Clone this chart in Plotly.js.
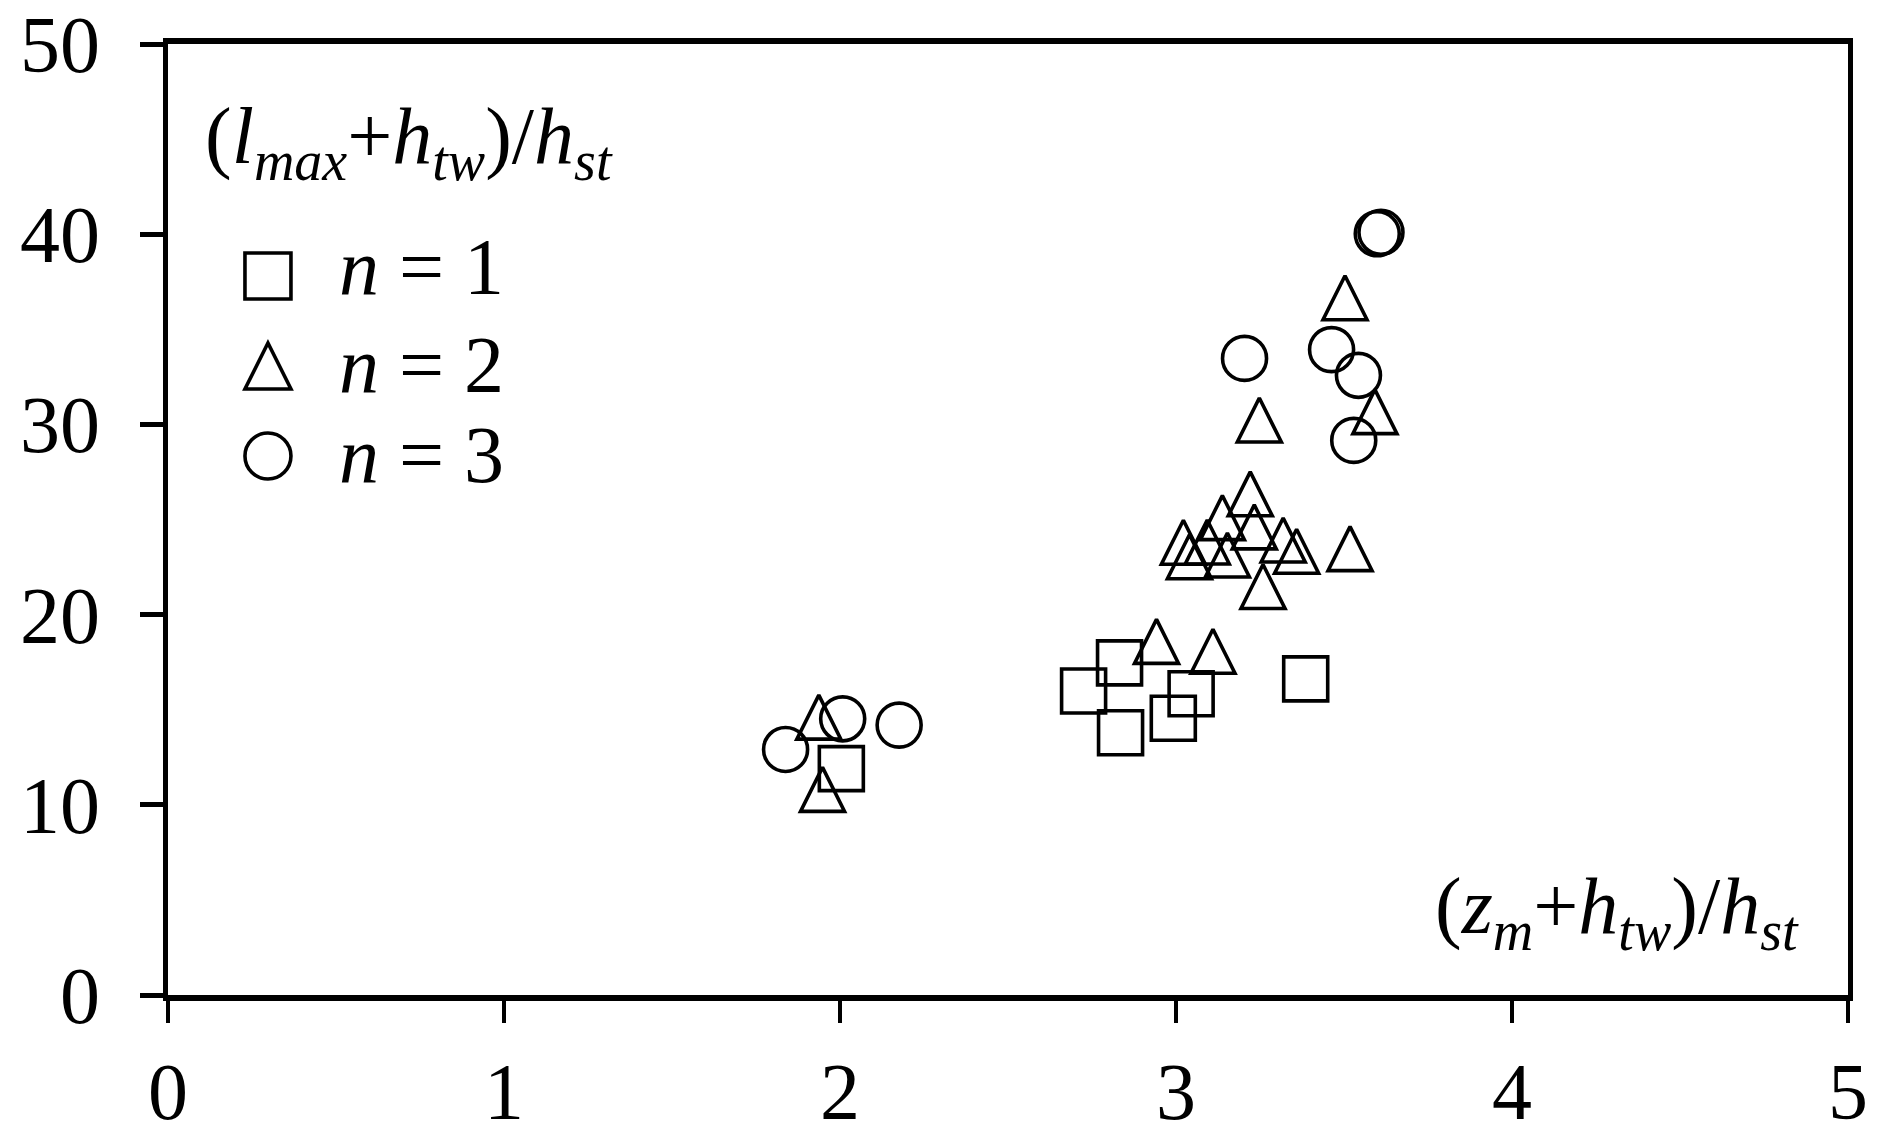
<!DOCTYPE html>
<html>
<head>
<meta charset="utf-8">
<script src="https://cdn.plot.ly/plotly-3.0.1.min.js"></script>
<style>
  html, body { margin: 0; padding: 0; background: #ffffff; }
  #chart { width: 1882px; height: 1136px; }
</style>
</head>
<body>
<div id="chart"></div>
<script>
// ---- data ----
const seriesNames = ["n = 1", "n = 2", "n = 3"];

const n1_x = [2.004, 2.725, 2.832, 2.835, 2.992, 3.045, 3.386];
const n1_y = [11.90, 15.98, 17.46, 13.79, 14.55, 15.84, 16.62];

const n2_x = [1.937, 1.948, 2.942, 3.110, 3.022, 3.093, 3.040, 3.153, 3.138, 3.221, 3.233, 3.319, 3.359, 3.518, 3.259, 3.248, 3.592, 3.503];
const n2_y = [14.61, 10.81, 18.59, 18.07, 23.80, 23.82, 23.04, 23.13, 25.10, 26.35, 24.61, 23.92, 23.33, 23.47, 21.48, 30.23, 30.67, 36.66];

const n3_x = [1.838, 2.008, 2.176, 3.204, 3.463, 3.543, 3.529, 3.599, 3.610];
const n3_y = [12.91, 14.52, 14.19, 33.47, 33.93, 32.58, 29.16, 40.02, 40.10];

const xTickVals = [0, 1, 2, 3, 4, 5];
const yTickVals = [0, 10, 20, 30, 40, 50];

// axis title pieces: [main, subscript] pairs
const xTitleParts = [["(", ""], ["z", "m"], ["+", ""], ["h", "tw"], [")/", ""], ["h", "st"]];
const yTitleParts = [["(", ""], ["l", "max"], ["+", ""], ["h", "tw"], [")/", ""], ["h", "st"]];

// ---- styling ----
const FONT = "'Liberation Serif', 'Times New Roman', serif";
const FS = 80;
const MS = 44;        // marker size (px)
const MLW = 3.6;      // marker outline width
const clear = "rgba(0,0,0,0)";

function buildTitle(parts) {
  const subSize = Math.round(FS * 0.7);
  const shift = -Math.round(subSize * 0.3);
  return parts.map(([main, sub]) => {
    const isVar = /^[a-z]$/.test(main);
    let s = isVar ? `<i>${main}</i>` : main;
    if (sub) {
      s += `<span style="font-size:${subSize}px;font-style:italic;baseline-shift:${shift}px">${sub}</span>`;
    }
    return s;
  }).join("");
}

const traces = [
  {
    x: n1_x, y: n1_y, name: seriesNames[0], type: "scatter", mode: "markers",
    marker: { symbol: "square", size: MS, color: clear, line: { color: "#000", width: MLW } }
  },
  {
    // tall isosceles triangle: arrow-down rotated 180deg, pushed back to centre by standoff
    x: n2_x, y: n2_y, name: seriesNames[1], type: "scatter", mode: "markers",
    marker: { symbol: "arrow-down", size: MS, angle: 180, standoff: MS / 2,
              color: clear, line: { color: "#000", width: MLW } }
  },
  {
    x: n3_x, y: n3_y, name: seriesNames[2], type: "scatter", mode: "markers",
    marker: { symbol: "circle", size: MS, color: clear, line: { color: "#000", width: MLW } }
  }
];

// custom legend (symbols at reference scale)
const legX = 0.0595;
const legRowsSym = [0.756, 0.6614, 0.5668];
const legRowsTxt = [0.766, 0.6625, 0.5678];
const legTxtX = 0.1006;
const h = 23;

const shapes = [
  { type: "rect", xref: "paper", yref: "paper", xsizemode: "pixel", ysizemode: "pixel",
    xanchor: legX, yanchor: legRowsSym[0], x0: -h, x1: h, y0: -h, y1: h,
    line: { color: "#000", width: MLW }, fillcolor: clear },
  { type: "path", xref: "paper", yref: "paper", xsizemode: "pixel", ysizemode: "pixel",
    xanchor: legX, yanchor: legRowsSym[1],
    path: `M${-h},${-h} L${h},${-h} L0,${h} Z`,
    line: { color: "#000", width: MLW }, fillcolor: clear },
  { type: "circle", xref: "paper", yref: "paper", xsizemode: "pixel", ysizemode: "pixel",
    xanchor: legX, yanchor: legRowsSym[2], x0: -h, x1: h, y0: -h, y1: h,
    line: { color: "#000", width: MLW }, fillcolor: clear }
];

const annFont = { family: FONT, size: FS, color: "#000" };
const annotations = [
  { xref: "paper", yref: "paper", x: 0.0208, y: 0.952, xanchor: "left", yanchor: "top",
    text: buildTitle(yTitleParts), showarrow: false, font: annFont },
  { xref: "paper", yref: "paper", x: 0.753, y: 0.142, xanchor: "left", yanchor: "top",
    text: buildTitle(xTitleParts), showarrow: false, font: annFont }
];
seriesNames.forEach((nm, i) => {
  annotations.push({
    xref: "paper", yref: "paper", x: legTxtX, y: legRowsTxt[i], xanchor: "left", yanchor: "middle",
    text: nm.replace("n", "<i>n</i>"), showarrow: false, font: annFont
  });
});

const layout = {
  width: 1882, height: 1136,
  margin: { l: 168, r: 34, t: 44, b: 141, pad: 0 },
  paper_bgcolor: "#fff", plot_bgcolor: "#fff",
  showlegend: false,
  font: { family: FONT, size: FS, color: "#000" },
  xaxis: {
    range: [0, 5], tickvals: xTickVals, ticktext: xTickVals.map(String),
    showgrid: false, zeroline: false,
    showline: true, linecolor: "#000", linewidth: 6, mirror: true,
    ticks: "outside", ticklen: 22, tickwidth: 4, tickcolor: "#000",
    tickfont: { family: FONT, size: FS, color: "#000" },
    fixedrange: true
  },
  yaxis: {
    range: [0, 50], tickvals: yTickVals, ticktext: yTickVals.map(String),
    showgrid: false, zeroline: false,
    showline: true, linecolor: "#000", linewidth: 5, mirror: true,
    ticks: "outside", ticklen: 23, tickwidth: 5, tickcolor: "#000",
    ticklabelstandoff: 24,
    tickfont: { family: FONT, size: FS, color: "#000" },
    fixedrange: true
  },
  shapes: shapes,
  annotations: annotations
};

Plotly.newPlot("chart", traces, layout, { displayModeBar: false, staticPlot: true });
</script>
</body>
</html>
